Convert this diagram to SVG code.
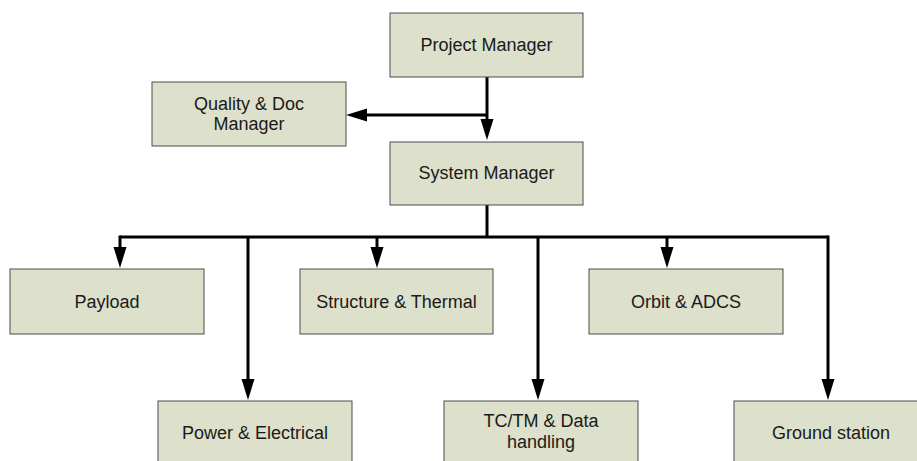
<svg xmlns="http://www.w3.org/2000/svg" width="917" height="461" viewBox="0 0 917 461">
<defs>
<style>
.box{fill:#dde0ca;stroke:#4d4d4d;stroke-width:1}
.lbl{font-family:"Liberation Sans",Arial,sans-serif;font-size:18px;fill:#1a1a1a;text-anchor:middle}
.ln{stroke:#000;stroke-width:3;fill:none}
</style>
<marker id="ah" markerUnits="userSpaceOnUse" markerWidth="21" markerHeight="14" refX="0" refY="6.5" orient="auto" viewBox="0 0 21 13">
<path d="M0,0 L21,6.5 L0,13 z" fill="#000"/>
</marker>
</defs>
<rect width="917" height="461" fill="#fff"/>
<g id="connectors">
<path class="ln" d="M487,77 V119" marker-end="url(#ah)"/>
<path class="ln" d="M487,115 H367" marker-end="url(#ah)"/>
<path class="ln" d="M487,205 V237"/>
<path class="ln" d="M120,237 H828"/>
<path class="ln" d="M120,235.5 V247" marker-end="url(#ah)"/>
<path class="ln" d="M377,237 V247" marker-end="url(#ah)"/>
<path class="ln" d="M667,237 V247" marker-end="url(#ah)"/>
<path class="ln" d="M248,237 V379" marker-end="url(#ah)"/>
<path class="ln" d="M538,237 V379" marker-end="url(#ah)"/>
<path class="ln" d="M828,235.5 V379" marker-end="url(#ah)"/>
</g>
<g id="project-manager"><rect class="box" x="390" y="13" width="193" height="64"/><text class="lbl" x="486.5" y="51">Project Manager</text></g>
<g id="quality-doc-manager"><rect class="box" x="152" y="82" width="194" height="64"/><text class="lbl" x="249" y="110">Quality &amp; Doc</text><text class="lbl" x="249" y="130">Manager</text></g>
<g id="system-manager"><rect class="box" x="390" y="142" width="193" height="63"/><text class="lbl" x="486.5" y="179">System Manager</text></g>
<g id="payload"><rect class="box" x="10" y="269" width="194" height="65"/><text class="lbl" x="107" y="307.5">Payload</text></g>
<g id="structure-thermal"><rect class="box" x="300" y="269" width="193" height="65"/><text class="lbl" x="396.5" y="307.5">Structure &amp; Thermal</text></g>
<g id="orbit-adcs"><rect class="box" x="589" y="269" width="194" height="65"/><text class="lbl" x="686" y="307.5">Orbit &amp; ADCS</text></g>
<g id="power-electrical"><rect class="box" x="158" y="401" width="194" height="65"/><text class="lbl" x="255" y="439">Power &amp; Electrical</text></g>
<g id="tctm-data"><rect class="box" x="444" y="401" width="194" height="65"/><text class="lbl" x="541" y="427">TC/TM &amp; Data</text><text class="lbl" x="541" y="448">handling</text></g>
<g id="ground-station"><rect class="box" x="734" y="401" width="194" height="65"/><text class="lbl" x="831" y="439">Ground station</text></g>
</svg>
